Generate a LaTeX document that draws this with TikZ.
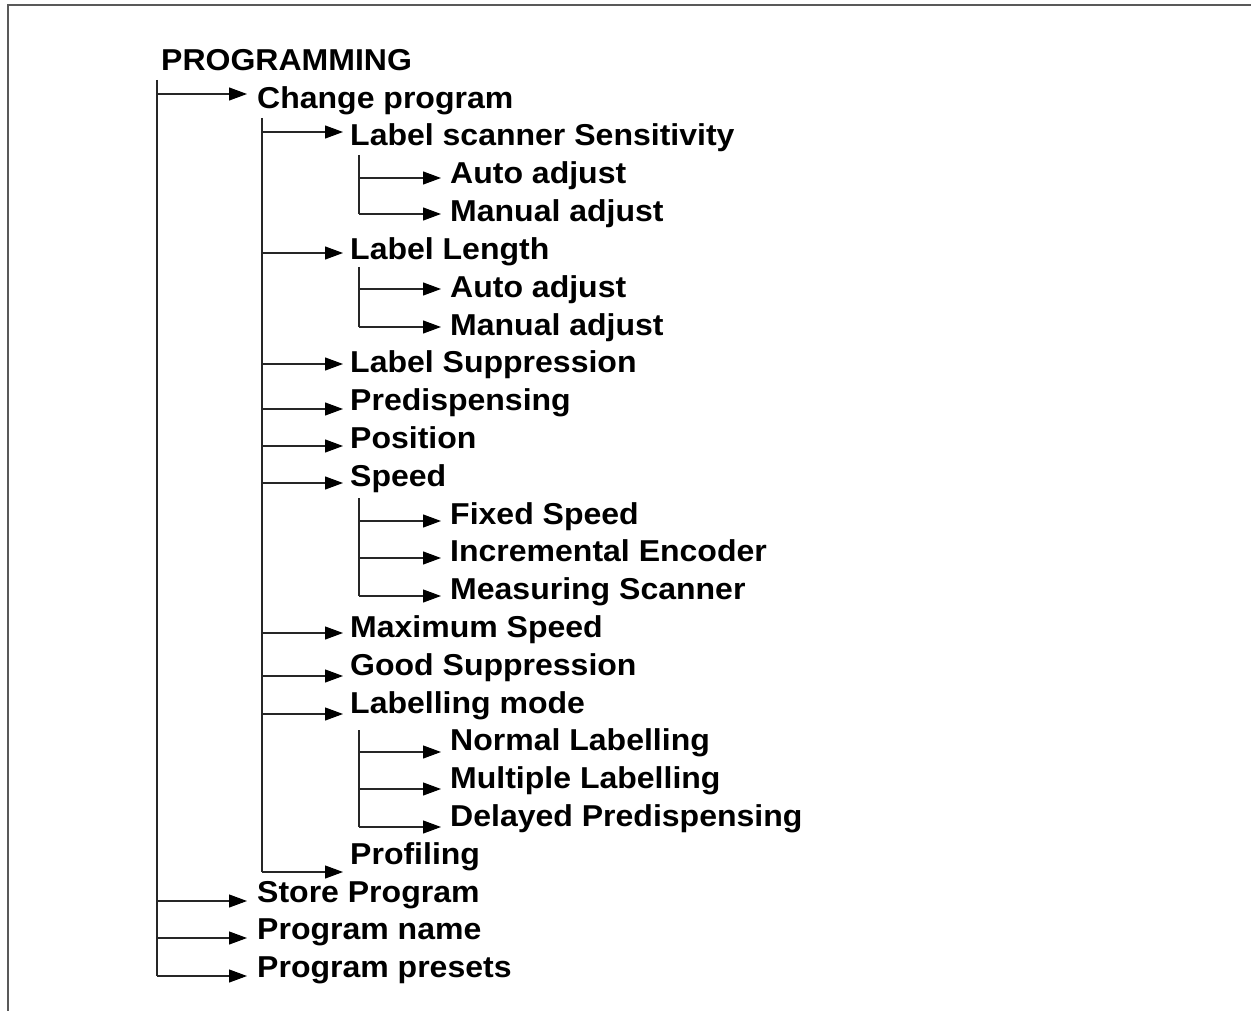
\documentclass[tikz,border=0pt]{standalone}
\usepackage{fontspec}
\setmainfont{Liberation Sans}[FakeStretch=1.06]
\usetikzlibrary{arrows.meta}
\begin{document}
\begin{tikzpicture}[x=1pt,y=-1pt,
  item/.style={anchor=base west, inner sep=0pt, font=\fontsize{30.2}{37}\selectfont\bfseries},
  conn/.style={draw=black!85, line width=1.1pt},
  arr/.style={conn, -{Triangle[length=18pt,width=13pt,color=black]}},
  frameline/.style={draw=black!65, line width=2pt}]
\useasboundingbox (0,0) rectangle (1251,1011);
% frame
\coordinate (fa) at (1251,5);
\coordinate (fb) at (7.5,5);
\coordinate (fc) at (7.5,1011);
\draw[frameline] (fa) -- (fb) -- (fc);

% texts
\node[item] (n0)  at (161,71)    {PROGRAMMING};
\node[item] (n1)  at (257,108.5) {Change program};
\node[item] (n2)  at (350,146)   {Label scanner Sensitivity};
\node[item] (n3)  at (450,183.8) {Auto adjust};
\node[item] (n4)  at (450,221.6) {Manual adjust};
\node[item] (n5)  at (350,259.4) {Label Length};
\node[item] (n6)  at (450,297.2) {Auto adjust};
\node[item] (n7)  at (450,335)   {Manual adjust};
\node[item] (n8)  at (350,372.8) {Label Suppression};
\node[item] (n9)  at (350,410.6) {Predispensing};
\node[item] (n10) at (350,448.4) {Position};
\node[item] (n11) at (350,486.2) {Speed};
\node[item] (n12) at (450,524)   {Fixed Speed};
\node[item] (n13) at (450,561.8) {Incremental Encoder};
\node[item] (n14) at (450,599.6) {Measuring Scanner};
\node[item] (n15) at (350,637.4) {Maximum Speed};
\node[item] (n16) at (350,675.2) {Good Suppression};
\node[item] (n17) at (350,713)   {Labelling mode};
\node[item] (n18) at (450,750.8) {Normal Labelling};
\node[item] (n19) at (450,788.6) {Multiple Labelling};
\node[item] (n20) at (450,826.4) {Delayed Predispensing};
\node[item] (n21) at (350,864.2) {Profiling};
\node[item] (n22) at (257,902)   {Store Program};
\node[item] (n23) at (257,939.8) {Program name};
\node[item] (n24) at (257,977.6) {Program presets};

% trunk lines (tops)
\coordinate (v0) at (157,80);
\coordinate (v1) at (262,118);
\coordinate (v2a) at (359,155);
\coordinate (v2b) at (359,267);
\coordinate (v2c) at (359,498);
\coordinate (v2d) at (359,730);

% arrow tips
\coordinate (a1)  at (247,94);
\coordinate (a2)  at (343,132);
\coordinate (a3)  at (441,178);
\coordinate (a4)  at (441,214);
\coordinate (a5)  at (343,253);
\coordinate (a6)  at (441,289);
\coordinate (a7)  at (441,327);
\coordinate (a8)  at (343,364);
\coordinate (a9)  at (343,409);
\coordinate (a10) at (343,446);
\coordinate (a11) at (343,483);
\coordinate (a12) at (441,521);
\coordinate (a13) at (441,558);
\coordinate (a14) at (441,596);
\coordinate (a15) at (343,633);
\coordinate (a16) at (343,676);
\coordinate (a17) at (343,714);
\coordinate (a18) at (441,752);
\coordinate (a19) at (441,789);
\coordinate (a20) at (441,827);
\coordinate (a21) at (343,872);
\coordinate (a22) at (247,901);
\coordinate (a23) at (247,938);
\coordinate (a24) at (247,976);

% vertical lines
\draw[conn] (v0) -- (v0 |- a24);
\draw[conn] (v1) -- (v1 |- a21);
\draw[conn] (v2a) -- (v2a |- a4);
\draw[conn] (v2b) -- (v2b |- a7);
\draw[conn] (v2c) -- (v2c |- a14);
\draw[conn] (v2d) -- (v2d |- a20);

% arrows
\foreach \a in {a1,a22,a23,a24} \draw[arr] (v0 |- \a) -- (\a);
\foreach \a in {a2,a5,a8,a9,a10,a11,a15,a16,a17,a21} \draw[arr] (v1 |- \a) -- (\a);
\foreach \a in {a3,a4} \draw[arr] (v2a |- \a) -- (\a);
\foreach \a in {a6,a7} \draw[arr] (v2b |- \a) -- (\a);
\foreach \a in {a12,a13,a14} \draw[arr] (v2c |- \a) -- (\a);
\foreach \a in {a18,a19,a20} \draw[arr] (v2d |- \a) -- (\a);
\end{tikzpicture}
\end{document}
